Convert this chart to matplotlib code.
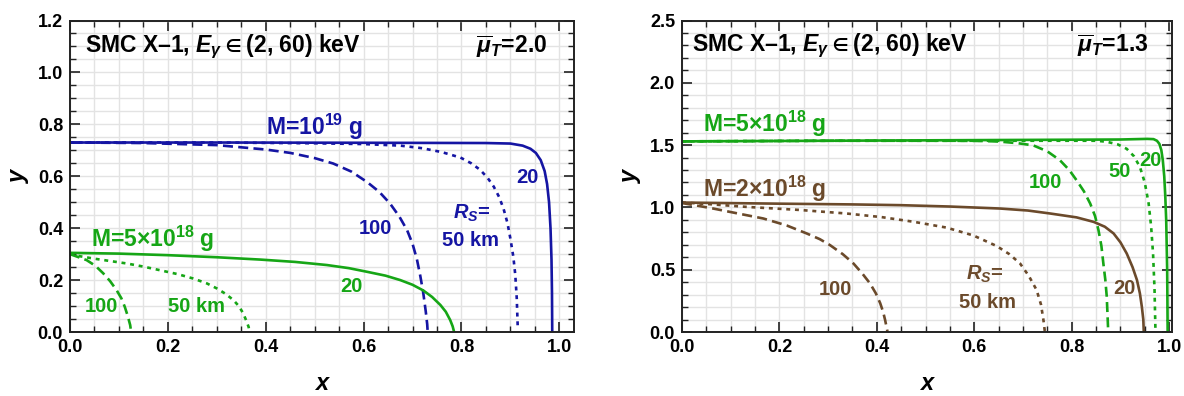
import matplotlib

matplotlib.use("Agg")
import matplotlib.pyplot as plt
from matplotlib.ticker import MultipleLocator, FormatStrFormatter

plt.rcParams["font.family"] = ["Liberation Sans", "DejaVu Sans"]
plt.rcParams["font.weight"] = "bold"
plt.rcParams["mathtext.fontset"] = "custom"
plt.rcParams["mathtext.rm"] = "Liberation Sans:bold"
plt.rcParams["mathtext.it"] = "Liberation Sans:bold:italic"
plt.rcParams["mathtext.bf"] = "Liberation Sans:bold"
plt.rcParams["mathtext.fallback"] = "stixsans"

BLUE = "#1515a3"
GREEN = "#16a616"
BROWN = "#6b4a2b"

# ---- left panel (mu_T = 2.0) ----
blue20_x = [0, 0.3, 0.6, 0.85, 0.9, 0.925, 0.941, 0.952, 0.962, 0.97, 0.975, 0.979, 0.982, 0.984, 0.985, 0.9855]
blue20_y = [0.73, 0.73, 0.729, 0.728, 0.726, 0.718, 0.706, 0.69, 0.662, 0.62, 0.57, 0.50, 0.40, 0.28, 0.15, 0.0]
blue50_x = [0, 0.3, 0.5, 0.6, 0.675, 0.72, 0.76, 0.798, 0.82, 0.838, 0.853, 0.866, 0.877, 0.886, 0.894,
            0.90, 0.906, 0.91, 0.913, 0.915]
blue50_y = [0.73, 0.73, 0.727, 0.724, 0.718, 0.708, 0.693, 0.672, 0.65, 0.625, 0.595, 0.56, 0.52, 0.475, 0.42,
            0.36, 0.29, 0.22, 0.13, 0.02]
blue100_x = [0, 0.15, 0.3, 0.4, 0.45, 0.5, 0.538, 0.575, 0.607, 0.632, 0.654, 0.673, 0.689, 0.70, 0.709,
             0.716, 0.722, 0.727, 0.73, 0.731]
blue100_y = [0.73, 0.728, 0.72, 0.703, 0.69, 0.67, 0.649, 0.618, 0.578, 0.54, 0.495, 0.445, 0.392, 0.34, 0.28,
             0.215, 0.15, 0.08, 0.03, 0.0]

greenL20_x = [0, 0.1, 0.2, 0.3, 0.389, 0.46, 0.525, 0.57, 0.607, 0.645, 0.675, 0.7, 0.722, 0.74, 0.757,
              0.768, 0.777, 0.782, 0.785]
greenL20_y = [0.305, 0.302, 0.296, 0.288, 0.279, 0.27, 0.258, 0.246, 0.232, 0.217, 0.20, 0.182, 0.16, 0.135, 0.104,
              0.078, 0.046, 0.022, 0.0]
greenL50_x = [0, 0.02, 0.048, 0.08, 0.116, 0.15, 0.184, 0.22, 0.252, 0.28, 0.30, 0.318, 0.334, 0.345, 0.354,
              0.36, 0.365, 0.367]
greenL50_y = [0.30, 0.292, 0.283, 0.274, 0.264, 0.252, 0.238, 0.223, 0.206, 0.187, 0.168, 0.147, 0.123, 0.10, 0.072,
              0.045, 0.02, 0.0]
greenL100_x = [0, 0.015, 0.034, 0.052, 0.068, 0.082, 0.095, 0.105, 0.112, 0.118, 0.123, 0.125]
greenL100_y = [0.30, 0.29, 0.277, 0.255, 0.226, 0.196, 0.162, 0.13, 0.097, 0.062, 0.027, 0.0]

# ---- right panel (mu_T = 1.3) ----
greenR20_x = [0, 0.3, 0.6, 0.9, 0.955, 0.968, 0.975, 0.98, 0.984, 0.987, 0.99, 0.992, 0.994, 0.996, 0.997]
greenR20_y = [1.53, 1.535, 1.54, 1.545, 1.55, 1.548, 1.535, 1.51, 1.46, 1.38, 1.25, 1.1, 0.9, 0.5, 0.0]
greenR50_x = [0, 0.3, 0.6, 0.85, 0.872, 0.895, 0.913, 0.928, 0.94, 0.95, 0.958, 0.963, 0.967, 0.97, 0.972]
greenR50_y = [1.53, 1.535, 1.535, 1.535, 1.527, 1.505, 1.47, 1.41, 1.325, 1.2, 1.03, 0.85, 0.63, 0.35, 0.0]
greenR100_x = [0, 0.3, 0.55, 0.62, 0.653, 0.69, 0.721, 0.75, 0.776, 0.795, 0.81, 0.825, 0.838, 0.848, 0.855,
               0.861, 0.865, 0.869, 0.872, 0.875]
greenR100_y = [1.53, 1.535, 1.535, 1.533, 1.528, 1.515, 1.498, 1.45, 1.378, 1.3, 1.218, 1.13, 1.031, 0.93, 0.817,
               0.69, 0.55, 0.42, 0.283, 0.0]

brown20_x = [0, 0.2, 0.35, 0.448, 0.55, 0.653, 0.71, 0.756, 0.81, 0.845, 0.868, 0.886, 0.9, 0.913, 0.925, 0.934,
             0.94, 0.944, 0.947, 0.948]
brown20_y = [1.039, 1.03, 1.024, 1.018, 1.007, 0.991, 0.975, 0.951, 0.92, 0.884, 0.845, 0.791, 0.72, 0.63, 0.52,
             0.417, 0.31, 0.203, 0.1, 0.0]
brown50_x = [0, 0.06, 0.133, 0.24, 0.338, 0.41, 0.475, 0.543, 0.598, 0.646, 0.672, 0.694, 0.712, 0.728, 0.737,
             0.742, 0.745]
brown50_y = [1.04, 1.025, 1.004, 0.98, 0.951, 0.922, 0.885, 0.838, 0.775, 0.69, 0.625, 0.55, 0.45, 0.337, 0.22,
             0.096, 0.0]
brown100_x = [0, 0.03, 0.064, 0.11, 0.167, 0.215, 0.256, 0.283, 0.304, 0.33, 0.352, 0.37, 0.386, 0.398, 0.407,
              0.413, 0.417, 0.422]
brown100_y = [1.035, 1.015, 0.991, 0.955, 0.911, 0.855, 0.791, 0.745, 0.697, 0.625, 0.55, 0.47, 0.39, 0.31, 0.23,
              0.16, 0.096, 0.0]

TITLE = "SMC X\u20131, $E_\\gamma \\in$(2, 60) keV"

LW = 1.9
DASHED = (0, (3.8, 2.0))
DOTTED = (0, (1.5, 1.8))
BIG = 16.5
SMALL = 14.5


def style_axes(ax, xmax, ymax, ymajor, yminor, ylab_x):
    ax.set_xlim(0, xmax)
    ax.set_ylim(0, ymax)
    ax.xaxis.set_major_locator(MultipleLocator(0.2))
    ax.xaxis.set_minor_locator(MultipleLocator(0.05))
    ax.yaxis.set_major_locator(MultipleLocator(ymajor))
    ax.yaxis.set_minor_locator(MultipleLocator(yminor))
    ax.xaxis.set_major_formatter(FormatStrFormatter("%.1f"))
    ax.yaxis.set_major_formatter(FormatStrFormatter("%.1f"))
    ax.grid(True, which="both", color="#e3e3e3", linewidth=1.0)
    ax.set_axisbelow(True)
    ax.tick_params(which="both", direction="in", top=True, right=True, color="#222222")
    ax.tick_params(which="major", length=7, width=1.2, labelsize=13, pad=5)
    ax.tick_params(which="minor", length=4, width=1.0)
    for lab in ax.get_xticklabels() + ax.get_yticklabels():
        lab.set_fontweight("bold")
    for sp in ax.spines.values():
        sp.set_linewidth(1.4)
        sp.set_color("#222222")
    ax.set_xlabel("x", fontsize=17, fontstyle="italic", fontweight="bold")
    ax.set_ylabel("y", fontsize=17, fontstyle="italic", fontweight="bold")
    ax.xaxis.set_label_coords(0.5, -0.185)
    ax.xaxis.label.set_verticalalignment("baseline")
    ax.yaxis.set_label_coords(ylab_x, 0.5)
    ax.yaxis.label.set_verticalalignment("center")


fig = plt.figure(figsize=(11.84, 3.96), dpi=100)
ax1 = fig.add_axes([0.0591, 0.1616, 0.4257, 0.7866])
ax2 = fig.add_axes([0.5760, 0.1616, 0.4139, 0.7866])

# left panel curves
ax1.plot(blue20_x, blue20_y, color=BLUE, lw=LW)
ax1.plot(blue50_x, blue50_y, color=BLUE, lw=LW, linestyle=DOTTED)
ax1.plot(blue100_x, blue100_y, color=BLUE, lw=LW, linestyle=DASHED)
ax1.plot(greenL20_x, greenL20_y, color=GREEN, lw=LW)
ax1.plot(greenL50_x, greenL50_y, color=GREEN, lw=LW, linestyle=DOTTED)
ax1.plot(greenL100_x, greenL100_y, color=GREEN, lw=LW, linestyle=DASHED)
style_axes(ax1, 1.03, 1.2, 0.2, 0.05, -0.103)

ax1.text(0.03, 1.10, TITLE, fontsize=BIG, fontweight="bold", va="center", ha="left")
ax1.text(0.975, 1.10, "$\\overline{\\mu}_T$=2.0", fontsize=BIG, fontweight="bold", va="center", ha="right")
ax1.text(0.50, 0.79, "M=$10^{19}$ g", color=BLUE, fontsize=BIG, fontweight="bold", ha="center", va="center")
ax1.text(0.935, 0.597, "20", color=BLUE, fontsize=SMALL, fontweight="bold", ha="center", va="center")
ax1.text(0.822, 0.457, "$R_S$=", color=BLUE, fontsize=SMALL, fontweight="bold", ha="center", va="center")
ax1.text(0.818, 0.354, "50 km", color=BLUE, fontsize=SMALL, fontweight="bold", ha="center", va="center")
ax1.text(0.624, 0.40, "100", color=BLUE, fontsize=SMALL, fontweight="bold", ha="center", va="center")
ax1.text(0.168, 0.36, "M=5\u00d7$10^{18}$ g", color=GREEN, fontsize=BIG, fontweight="bold", ha="center", va="center")
ax1.text(0.576, 0.174, "20", color=GREEN, fontsize=SMALL, fontweight="bold", ha="center", va="center")
ax1.text(0.065, 0.10, "100", color=GREEN, fontsize=SMALL, fontweight="bold", ha="center", va="center")
ax1.text(0.259, 0.10, "50 km", color=GREEN, fontsize=SMALL, fontweight="bold", ha="center", va="center")

# right panel curves
ax2.plot(greenR20_x, greenR20_y, color=GREEN, lw=LW)
ax2.plot(greenR50_x, greenR50_y, color=GREEN, lw=LW, linestyle=DOTTED)
ax2.plot(greenR100_x, greenR100_y, color=GREEN, lw=LW, linestyle=DASHED)
ax2.plot(brown20_x, brown20_y, color=BROWN, lw=LW)
ax2.plot(brown50_x, brown50_y, color=BROWN, lw=LW, linestyle=DOTTED)
ax2.plot(brown100_x, brown100_y, color=BROWN, lw=LW, linestyle=DASHED)
style_axes(ax2, 1.006, 2.5, 0.5, 0.1, -0.106)

ax2.text(0.02, 2.30, TITLE, fontsize=BIG, fontweight="bold", va="center", ha="left")
ax2.text(0.957, 2.30, "$\\overline{\\mu}_T$=1.3", fontsize=BIG, fontweight="bold", va="center", ha="right")
ax2.text(0.17, 1.67, "M=5\u00d7$10^{18}$ g", color=GREEN, fontsize=BIG, fontweight="bold", ha="center", va="center")
ax2.text(0.17, 1.15, "M=2\u00d7$10^{18}$ g", color=BROWN, fontsize=BIG, fontweight="bold", ha="center", va="center")
ax2.text(0.314, 0.34, "100", color=BROWN, fontsize=SMALL, fontweight="bold", ha="center", va="center")
ax2.text(0.622, 0.46, "$R_S$=", color=BROWN, fontsize=SMALL, fontweight="bold", ha="center", va="center")
ax2.text(0.628, 0.24, "50 km", color=BROWN, fontsize=SMALL, fontweight="bold", ha="center", va="center")
ax2.text(0.908, 0.35, "20", color=BROWN, fontsize=SMALL, fontweight="bold", ha="center", va="center")
ax2.text(0.747, 1.20, "100", color=GREEN, fontsize=SMALL, fontweight="bold", ha="center", va="center")
ax2.text(0.898, 1.29, "50", color=GREEN, fontsize=SMALL, fontweight="bold", ha="center", va="center")
ax2.text(0.962, 1.38, "20", color=GREEN, fontsize=SMALL, fontweight="bold", ha="center", va="center")

fig.savefig("out.png", dpi=100)
